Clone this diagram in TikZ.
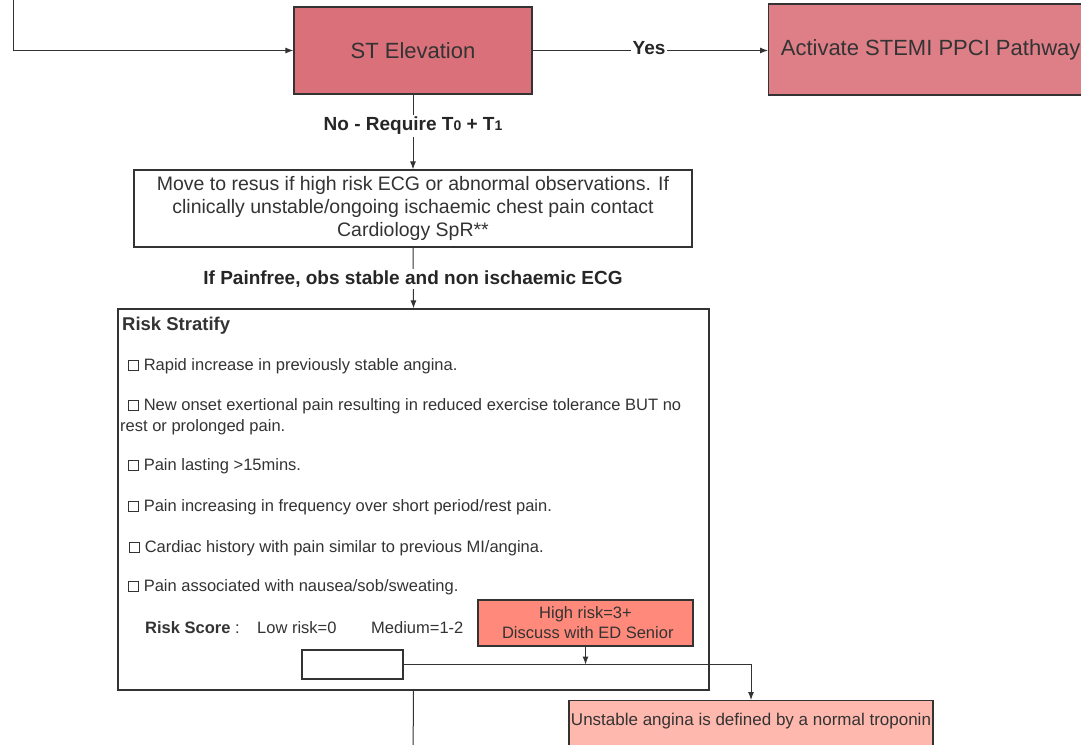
\documentclass[tikz,border=0pt]{standalone}
\usepackage{fontspec}
\setmainfont{Liberation Sans}
\usetikzlibrary{arrows.meta}
\definecolor{ink}{HTML}{333333}
\definecolor{stfill}{HTML}{D9707A}
\definecolor{actfill}{HTML}{DE7F88}
\definecolor{highfill}{HTML}{FF8A7B}
\definecolor{unstfill}{HTML}{FFB8AE}
% small empty tick box used in the risk list
\newcommand\chkbox{{\fboxrule=0.8pt\fboxsep=0pt\fbox{\phantom{\rule{9pt}{9pt}}}}}
\tikzset{
  box/.style={draw=ink, line width=1.2pt, inner sep=0pt, text=ink},
  conn/.style={draw=ink, line width=1pt},
  arr/.style={conn, -{Latex[length=8pt,width=6pt]}},
  lbl/.style={fill=white, inner sep=2pt, text=black!85, font=\bfseries\fontsize{19}{22}\selectfont},
  item/.style={anchor=base west, inner sep=0pt, text=ink, font=\fontsize{16.5}{19}\selectfont},
}
\begin{document}
\begin{tikzpicture}[x=1pt,y=-1pt]
\useasboundingbox (0,0) rectangle (1081,744);
\clip (0,0) rectangle (1081,744);

% decision boxes
\node[box, fill=stfill, minimum width=238pt, minimum height=87pt] (st) at (413,50.5)
  {\fontsize{22}{26}\selectfont ST Elevation};
\node[box, fill=actfill, minimum width=324pt, minimum height=91pt, anchor=west] (act) at (768,49.5)
  {\fontsize{22}{26}\selectfont Activate STEMI PPCI Pathway};
\node[box, fill=white, minimum width=558pt, minimum height=77pt, align=center,
      font=\fontsize{19.5}{23}\selectfont] (move) at (413,208.5)
  {Move to resus if high risk ECG or abnormal observations. If\\
   clinically unstable/ongoing ischaemic chest pain contact\\
   Cardiology SpR**};
\node[box, fill=white, minimum width=591pt, minimum height=381pt] (risk) at (413.5,499.5) {};
\node[box, fill=highfill, minimum width=215pt, minimum height=46pt, align=center,
      font=\fontsize{16.5}{20}\selectfont] (high) at (585.5,623)
  {High risk=3+\\ \ Discuss with ED Senior};
\node[box, fill=white, minimum width=101pt, minimum height=29pt] (small) at (352.5,664.5) {};
\node[box, fill=unstfill, minimum width=364pt, minimum height=56pt, anchor=north] (unst) at (751,700) {};
\node[text=ink, inner sep=0pt, font=\fontsize{17}{20}\selectfont] (unsttext) at (751,721)
  {Unstable angina is defined by a normal troponin};

% risk stratification list
\node[item, font=\bfseries\fontsize{18.5}{22}\selectfont] (rs) at (122,330) {Risk Stratify};
\node[item] (i1) at (128,370) {\chkbox\hspace{5pt}Rapid increase in previously stable angina.};
\node[item] (i2) at (128,410) {\chkbox\hspace{5pt}New onset exertional pain resulting in reduced exercise tolerance BUT no};
\node[item] (i2b) at (120,431) {rest or prolonged pain.};
\node[item] (i3) at (128,470) {\chkbox\hspace{5pt}Pain lasting >15mins.};
\node[item] (i4) at (128,511) {\chkbox\hspace{5pt}Pain increasing in frequency over short period/rest pain.};
\node[item] (i5) at (129,552) {\chkbox\hspace{5pt}Cardiac history with pain similar to previous MI/angina.};
\node[item] (i6) at (128,591) {\chkbox\hspace{5pt}Pain associated with nausea/sob/sweating.};
\node[item] (score) at (145,633) {\textbf{Risk Score} :};
\node[item] (low) at (257,633) {Low risk=0};
\node[item] (med) at (371,633) {Medium=1-2};

% connectors
\coordinate (topin) at (13,-5);
\coordinate (downout) at (413,760);
\draw[arr] (topin) |- (st.west);
\draw[arr] (st.east) -- (st.east -| act.west);
\draw[arr] (st.south) -- (move.north);
\draw[arr] (move.south) -- (risk.north);
\draw[arr] (high.south) -- (high.south |- small.east);
\draw[arr] (small.east) -| (unst.north);
\draw[conn] (risk.south) -- (downout);

% connector labels
\node[lbl] (yes) at (649,48) {Yes};
\node[lbl] (no) at (413,126) {No - Require T{\fontsize{14}{16}\selectfont 0} + T{\fontsize{14}{16}\selectfont 1}};
\node[lbl] (pf) at (413,279) {If Painfree, obs stable and non ischaemic ECG};
\end{tikzpicture}
\end{document}
